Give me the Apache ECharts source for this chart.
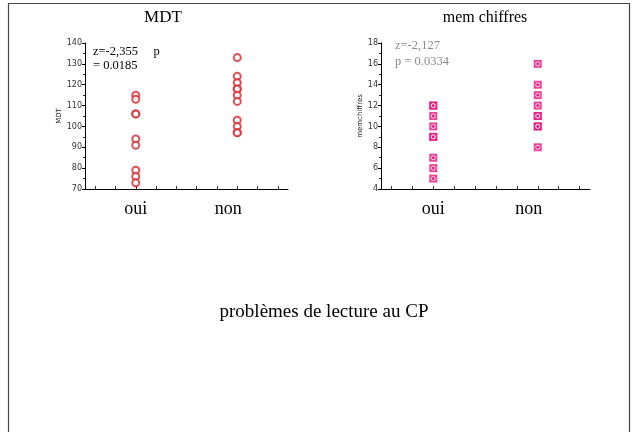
<!DOCTYPE html>
<html><head><meta charset="utf-8">
<script src="https://cdn.jsdelivr.net/npm/echarts@6/dist/echarts.min.js"></script>
<style>html,body{margin:0;padding:0;background:#fff}#c{width:633px;height:432px}</style>
</head><body><div id="c"></div>
<script>
// x slots (10 bands), only two carry labels
const slots = ['', '', 'oui', '', '', '', '', 'non', '', ''];
const ouiIdx = 2, nonIdx = 7;
// MDT values
const mdtOui = [115, 113, 106, 106, 94, 91, 79, 76, 73];
const mdtNon = [133, 124, 121, 118, 118, 115, 112, 103, 100, 97, 97];
// mem chiffres values
const memOui = [12, 12, 11, 10, 9, 9, 7, 6, 5];
const memNon = [16, 14, 13, 12, 11, 11, 10, 10, 8];
// axis ranges
const mdtAxis = {min: 70, max: 140, interval: 10};
const memAxis = {min: 4, max: 18, interval: 2};
// texts
const titles = ['MDT', 'mem chiffres'];
const yNames = ['MDT', 'memchiffres'];
const stat1 = ['z=-2,355     p', '= 0.0185'];
const stat2 = ['z=-2,127', 'p = 0.0334'];
const footer = 'problèmes de lecture au CP';

const pts = (idx, arr) => arr.map(v => [idx, v]);
const serif = 'Liberation Serif, Times New Roman, serif';

function xAx(gi) {
  return {
    type: 'category', gridIndex: gi, data: slots, boundaryGap: true,
    axisLine: {lineStyle: {color: '#000', width: 1}},
    axisTick: {show: true, inside: true, length: 3, alignWithLabel: true, interval: 0, lineStyle: {color: '#333'}},
    axisLabel: {
      interval: 0, margin: 11, color: '#000', fontFamily: serif, fontSize: 18,
      formatter: (v) => v === 'non' ? '{n|non}' : v,
      rich: {n: {fontFamily: serif, fontSize: 18, color: '#000', padding: [0, 18, 0, 0]}}
    },
    splitLine: {show: false}
  };
}
function yAx(gi, r, name, gap) {
  return {
    type: 'value', gridIndex: gi, min: r.min, max: r.max, interval: r.interval,
    name: name, nameLocation: 'middle', nameRotate: 90, nameGap: gap,
    nameTextStyle: {fontSize: 7, color: '#222', fontFamily: 'DejaVu Sans'},
    axisLine: {show: true, lineStyle: {color: '#000', width: 1}},
    axisTick: {show: true, length: 3, lineStyle: {color: '#000'}},
    minorTick: {show: true, splitNumber: 2, length: 2, lineStyle: {color: '#333'}},
    axisLabel: {fontSize: 8, color: '#333', margin: 3, fontFamily: 'DejaVu Sans'},
    splitLine: {show: false}
  };
}

const chart = echarts.init(document.getElementById('c'));
chart.setOption({
  animation: false,
  grid: [
    {left: 85, top: 43, width: 203, height: 146},
    {left: 381, top: 43, width: 209, height: 146}
  ],
  xAxis: [xAx(0), xAx(1)],
  yAxis: [yAx(0, mdtAxis, yNames[0], 21), yAx(1, memAxis, yNames[1], 16)],
  series: [
    {type: 'scatter', xAxisIndex: 0, yAxisIndex: 0, data: pts(ouiIdx, mdtOui), symbol: 'emptyCircle', symbolSize: 7,
     itemStyle: {color: '#d8232a', borderColor: '#d8232a', borderWidth: 1}},
    {type: 'scatter', xAxisIndex: 0, yAxisIndex: 0, data: pts(nonIdx, mdtNon), symbol: 'emptyCircle', symbolSize: 7,
     itemStyle: {color: '#d8232a', borderColor: '#d8232a', borderWidth: 1}},
    {type: 'scatter', xAxisIndex: 1, yAxisIndex: 1, data: pts(ouiIdx, memOui), symbol: 'rect', symbolSize: 8,
     itemStyle: {color: '#e8177c'}},
    {type: 'scatter', xAxisIndex: 1, yAxisIndex: 1, data: pts(nonIdx, memNon), symbol: 'rect', symbolSize: 8,
     itemStyle: {color: '#e8177c'}},
    {type: 'scatter', xAxisIndex: 1, yAxisIndex: 1, data: pts(ouiIdx, memOui), symbol: 'circle', symbolSize: 4,
     itemStyle: {color: '#e8177c', borderColor: '#fff', borderWidth: 1}, z: 3},
    {type: 'scatter', xAxisIndex: 1, yAxisIndex: 1, data: pts(nonIdx, memNon), symbol: 'circle', symbolSize: 4,
     itemStyle: {color: '#e8177c', borderColor: '#fff', borderWidth: 1}, z: 3}
  ],
  graphic: [
    {type: 'rect', shape: {x: 8.5, y: 3.5, width: 621, height: 440}, style: {fill: 'none', stroke: '#444', lineWidth: 1.2}, silent: true},
    {type: 'text', x: 163, y: 18, style: {text: titles[0], font: '17px ' + serif, fill: '#000', textAlign: 'center', textVerticalAlign: 'middle'}},
    {type: 'text', x: 485, y: 18, style: {text: titles[1], font: '16px ' + serif, fill: '#000', textAlign: 'center', textVerticalAlign: 'middle'}},
    {type: 'text', x: 93, y: 52, style: {text: stat1[0], font: '12.5px ' + serif, fill: '#000', textVerticalAlign: 'middle'}},
    {type: 'text', x: 93, y: 66, style: {text: stat1[1], font: '12.5px ' + serif, fill: '#000', textVerticalAlign: 'middle'}},
    {type: 'text', x: 395, y: 46, style: {text: stat2[0], font: '12.5px ' + serif, fill: '#8a8a8a', textVerticalAlign: 'middle'}},
    {type: 'text', x: 395, y: 62, style: {text: stat2[1], font: '12.5px ' + serif, fill: '#8a8a8a', textVerticalAlign: 'middle'}},
    {type: 'text', x: 324, y: 312, style: {text: footer, font: '19px ' + serif, fill: '#000', textAlign: 'center', textVerticalAlign: 'middle'}}
  ]
});
</script>
</body></html>
